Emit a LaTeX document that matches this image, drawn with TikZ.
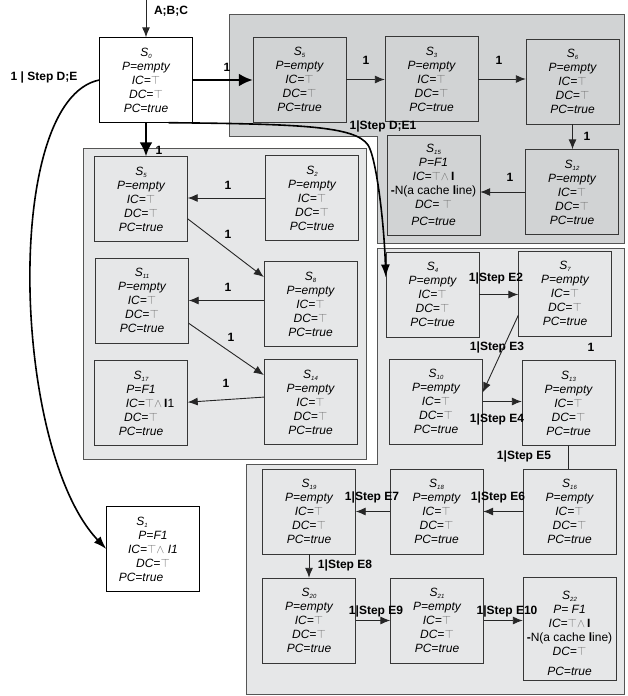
\documentclass[tikz,border=0pt]{standalone}
\usepackage{fontspec}
\setmainfont{Liberation Sans}
\usetikzlibrary{positioning}
\usetikzlibrary{arrows.meta}

\definecolor{darkpanel}{RGB}{209,211,212}
\definecolor{lightpanel}{RGB}{230,231,232}
\definecolor{panelline}{RGB}{85,85,85}
\definecolor{boxline}{RGB}{55,55,55}
\definecolor{tgray}{RGB}{115,115,115}

\newcommand{\sname}[1]{{\itshape S}\raisebox{-2pt}{\fontsize{6}{6}\selectfont\itshape #1}}
\newcommand{\Ttop}{{\color{tgray}$\top$}}
\newcommand{\Tand}{{\color{tgray}$\top\wedge$}}
\newcommand{\plainstate}[1]{\sname{#1}\\P=empty\\IC=\Ttop\\DC=\Ttop\\PC=true}

\begin{document}
\begin{tikzpicture}[
        x=1pt, y=-1pt,
        >={Latex[length=10pt,width=8pt]},
        state/.style = {draw=boxline, minimum width=93pt, minimum height=85pt, inner sep=1pt,
                        align=center, font=\fontsize{12}{14}\selectfont\itshape},
        darkbox/.style = {state, fill=darkpanel},
        lightbox/.style = {state, fill=lightpanel},
        startbox/.style = {state, fill=white, draw=black},
        lbl/.style = {inner sep=0pt, font=\fontsize{12}{14}\selectfont\bfseries},
        link/.style = {->, draw=black!85, line width=0.9pt},
        heavy/.style = {->, line width=2.5pt, >={Latex[length=14pt,width=13pt]}},
        longarc/.style = {->, line width=1.6pt, >={Latex[length=13pt,width=9pt]}}
    ]

        \useasboundingbox (0,0) rectangle (627,696);

        % panels
        \filldraw[fill=darkpanel, draw=panelline] (229,14) -- (624,14) -- (624,243) -- (377,243) -- (377,136) -- (229,136) -- cycle;
        \filldraw[fill=lightpanel, draw=panelline] (83,148) rectangle (366,459);
        \filldraw[fill=lightpanel, draw=panelline] (377,248) -- (624,248) -- (624,694) -- (246,694) -- (246,464) -- (377,464) -- cycle;

        % states
        \node[startbox] (s0) at (146,80) {\plainstate{0}};
        \node[darkbox] (s5t) at (299.5,79.5) {\plainstate{5}};
        \node[darkbox] (s3) at (431.5,79) {\plainstate{3}};
        \node[darkbox] (s6) at (572.5,81.5) {\plainstate{6}};
        \node[darkbox] (s12) at (572,192) {\plainstate{12}};
        \node[darkbox, minimum height=100pt] (s15) at (433.5,185) {\sname{15}\\P=F1\\IC=\Tand\,\textbf{\upshape I}\\{\upshape\textbf{-}N(a cache \textbf{l}ine)}\\DC= \Ttop\\[3pt]PC=true};

        \node[lightbox] (s5l) at (141,199) {\plainstate{5}};
        \node[lightbox] (s2) at (312,198) {\plainstate{2}};
        \node[lightbox] (s11) at (142,300.5) {\plainstate{11}};
        \node[lightbox] (s8) at (310.5,304) {\plainstate{8}};
        \node[lightbox] (s17) at (141,403) {\sname{17}\\P=F1\\\hspace*{18pt}IC=\Tand\,\textbf{\upshape I}{\upshape 1}\\DC=\Ttop\\PC=true};
        \node[lightbox] (s14) at (310.5,402) {\plainstate{14}};

        \node[lightbox] (s4) at (432.5,294.5) {\plainstate{4}};
        \node[lightbox] (s7) at (565,293.5) {\plainstate{7}};
        \node[lightbox] (s10) at (436,401.5) {\plainstate{10}};
        \node[lightbox] (s13) at (568.5,403) {\plainstate{13}};
        \node[lightbox] (s19) at (309,511.5) {\plainstate{19}};
        \node[lightbox] (s18) at (436.5,511.5) {\plainstate{18}};
        \node[lightbox] (s16) at (569.5,511.5) {\plainstate{16}};
        \node[lightbox] (s20) at (309,620.5) {\plainstate{20}};
        \node[lightbox] (s21) at (437,620.5) {\plainstate{21}};
        \node[lightbox, minimum height=103pt] (s22) at (569.5,628.5) {\rule{0pt}{19pt}\sname{22}\\P= F1\\IC=\Tand\,\textbf{\upshape I}\\{\upshape\textbf{-}N(a cache \textbf{l}ine)}\\DC=\Ttop\\[6pt]PC=true};

        \node[startbox] (s1) at (153,549) {\sname{1}\hspace*{22pt}\\P=F1\hspace*{18pt}\\IC=\Tand\ I1\hspace*{2pt}\\DC=\Ttop\hspace*{24pt}\\PC=true\hspace*{24pt}};

        % labels
        \node[lbl] (abc) at (171,11) {A;B;C};
        \node[lbl] (de) at (44,77) {1 | Step D;E};
        \node[lbl] (w1) at (227,67) {1};
        \node[lbl] (w2) at (366,60) {1};
        \node[lbl] (w3) at (499,60) {1};
        \node[lbl] (w4) at (587,136) {1};
        \node[lbl] (w5) at (510,177) {1};
        \node[lbl] (de1) at (383,126) {1|Step D;E1};
        \node[lbl] (w6) at (159,150) {1};
        \node[lbl] (w7) at (228,185) {1};
        \node[lbl] (w8) at (228,234) {1};
        \node[lbl] (w9) at (228,287) {1};
        \node[lbl] (w10) at (231,337) {1};
        \node[lbl] (w11) at (226,383) {1};
        \node[lbl] (e2) at (496,278) {1|Step E2};
        \node[lbl] (e3) at (497,347) {1|Step E3};
        \node[lbl] (w12) at (591,347) {1};
        \node[lbl] (e4) at (497,419) {1|Step E4};
        \node[lbl] (e5) at (524,456) {1|Step E5};
        \node[lbl] (e6) at (498,497) {1|Step E6};
        \node[lbl] (e7) at (372,497) {1|Step E7};
        \node[lbl] (e8) at (345,565) {1|Step E8};
        \node[lbl] (e9) at (376,611) {1|Step E9};
        \node[lbl] (e10) at (507,611) {1|Step E10};

        % transitions
        \coordinate (entry) at (146,0);
        \draw[link] (entry) -- (s0);
        \draw[heavy] (s0.east) -- (s0.east -| s5t.west);
        \draw[heavy] (s0.south) -- (s0.south |- s5l.north);
        \draw[link] (s5t.east) -- (s5t.east -| s3.west);
        \draw[link] (s3.east) -- (s3.east -| s6.west);
        \draw[link] (s6.south) -- (s6.south |- s12.north);
        \draw[link] (s12.west) -- (s12.west -| s15.east);

        \draw[link] (s2.west) -- (s2.west -| s5l.east);
        \draw[link] (s5l.-23) -- (s8.150);
        \draw[link] (s8.west |- s11.east) -- (s11.east);
        \draw[link] (s11.-26) -- (s14.150);
        \draw[link] (s14.174) -- (s17.1);

        \draw[link] (s4.east) -- (s4.east -| s7.west);
        \draw[link] (s7.-155) -- (s10.11);
        \draw[link] (s10.east) -- (s10.east -| s13.west);
        \draw[draw=black!85, line width=0.9pt] (s13.south) -- (s13.south |- s16.north);
        \draw[link] (s16.west) -- (s16.west -| s18.east);
        \draw[link] (s18.west) -- (s18.west -| s19.east);
        \draw[link] (s19.south) -- (s19.south |- s20.north);
        \draw[link] (s20.east) -- (s20.east -| s21.west);
        \draw[link] (s21.east) -- (s21.east -| s22.west);

        \draw[longarc] (s0.west) .. controls (2,100) and (12,450) .. (s1.west);
        \draw[longarc] (s0.-62) .. controls (300,124) and (355,126) .. (368,145)
                                .. controls (376,157) and (384,220) .. (s4.160);

    \end{tikzpicture}
\end{document}
